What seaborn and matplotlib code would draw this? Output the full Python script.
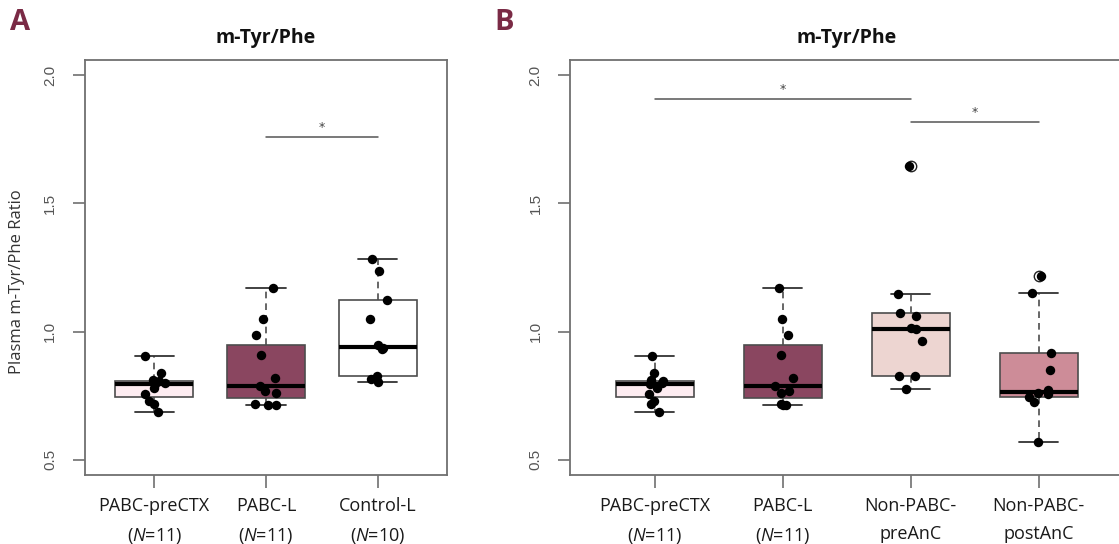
import numpy as np
import pandas as pd
import matplotlib
matplotlib.use("Agg")
import matplotlib.pyplot as plt
import matplotlib.cbook as cbook
import seaborn as sns

# ---------------------------------------------------------------------------
# Plasma m-Tyr/Phe ratios per group
# ---------------------------------------------------------------------------
pabc_prectx = [0.905, 0.840, 0.812, 0.805, 0.800, 0.795, 0.778, 0.758, 0.728, 0.716, 0.686]
pabc_l = [1.170, 1.050, 0.988, 0.907, 0.817, 0.787, 0.768, 0.762, 0.718, 0.714, 0.712]
control_l = [1.285, 1.238, 1.123, 1.048, 0.948, 0.935, 0.930, 0.828, 0.815, 0.804]
nonpabc_preanc = [1.648, 1.147, 1.072, 1.059, 1.013, 1.009, 0.962, 0.828, 0.828, 0.776]
nonpabc_postanc = [1.218, 1.150, 0.918, 0.850, 0.772, 0.759, 0.755, 0.746, 0.724, 0.567]

groups_a = ["PABC-preCTX", "PABC-L", "Control-L"]
groups_b = ["PABC-preCTX", "PABC-L", "Non-PABC-preAnC", "Non-PABC-postAnC"]
values = {
    "PABC-preCTX": pabc_prectx,
    "PABC-L": pabc_l,
    "Control-L": control_l,
    "Non-PABC-preAnC": nonpabc_preanc,
    "Non-PABC-postAnC": nonpabc_postanc,
}
tick_labels = {
    "PABC-preCTX": "PABC-preCTX\n($\\mathit{N}$=11)",
    "PABC-L": "PABC-L\n($\\mathit{N}$=11)",
    "Control-L": "Control-L\n($\\mathit{N}$=10)",
    "Non-PABC-preAnC": "Non-PABC-\npreAnC",
    "Non-PABC-postAnC": "Non-PABC-\npostAnC",
}
fill_colors = {
    "PABC-preCTX": "#FDECF1",
    "PABC-L": "#8A4660",
    "Control-L": "#FFFFFF",
    "Non-PABC-preAnC": "#EDD5D1",
    "Non-PABC-postAnC": "#CD8C98",
}

# significance brackets: (first group, second group, bar height)
sig_a = [("PABC-L", "Control-L", 1.760)]
sig_b = [("PABC-preCTX", "Non-PABC-preAnC", 1.909),
         ("Non-PABC-preAnC", "Non-PABC-postAnC", 1.819)]

y_ticks = [0.5, 1.0, 1.5, 2.0]
y_tick_labels = ["0.5", "1.0", "1.5", "2.0"]
panel_title = "m-Tyr/Phe"
y_title = "Plasma m-Tyr/Phe Ratio"

# ---------------------------------------------------------------------------
# Boxes use Tukey hinges (fivenum), as in R's boxplot
# ---------------------------------------------------------------------------
_default_stats = cbook.boxplot_stats


def tukey_boxplot_stats(X, whis=1.5, bootstrap=None, labels=None, autorange=False):
    stats = _default_stats(X, whis=whis, bootstrap=bootstrap, labels=labels,
                           autorange=autorange)
    arrays = X if isinstance(X, (list, tuple)) else [X]
    for st, x in zip(stats, arrays):
        x = np.sort(np.asarray(x, dtype=float))
        n = len(x)
        n4 = np.floor((n + 3) / 2) / 2
        d = np.array([1, n4, (n + 1) / 2, n + 1 - n4, n]) - 1
        q = 0.5 * (x[np.floor(d).astype(int)] + x[np.ceil(d).astype(int)])
        q1, med, q3 = q[1], q[2], q[3]
        iqr = q3 - q1
        hi = x[x <= q3 + whis * iqr].max()
        lo = x[x >= q1 - whis * iqr].min()
        st.update(q1=q1, med=med, q3=q3, iqr=iqr, whishi=hi, whislo=lo,
                  fliers=x[(x < lo) | (x > hi)])
    return stats


matplotlib.cbook.boxplot_stats = tukey_boxplot_stats

# ---------------------------------------------------------------------------
sns.set_theme(style="white")
plt.rcParams["font.family"] = ["Open Sans", "DejaVu Sans"]
plt.rcParams["mathtext.fontset"] = "custom"
plt.rcParams["mathtext.rm"] = "Open Sans"
plt.rcParams["mathtext.it"] = "Open Sans:italic"

W, H = 1119, 544
fig = plt.figure(figsize=(W / 100, H / 100), dpi=100)
fig.patch.set_facecolor("white")

BOX_EDGE = "#4d4d4d"
FRAME = "#707070"


def draw_panel(ax, groups, box_width, comparisons):
    df = pd.DataFrame(
        [(g, v) for g in groups for v in values[g]], columns=["group", "value"]
    )
    sns.boxplot(
        data=df, x="group", y="value", hue="group", order=groups,
        hue_order=groups, palette=fill_colors, dodge=False, width=box_width,
        saturation=1, linewidth=1.2, linecolor=BOX_EDGE, whis=1.5,
        legend=False, ax=ax,
        medianprops=dict(color="black", linewidth=3.0),
        whiskerprops=dict(color=BOX_EDGE, linewidth=1.2, linestyle=(0, (4, 3))),
        capprops=dict(color="#333333", linewidth=1.3),
        flierprops=dict(marker="o", markerfacecolor="white",
                        markeredgecolor="#222222", markersize=7.5,
                        markeredgewidth=1.0),
    )
    sns.stripplot(
        data=df, x="group", y="value", order=groups, color="black", size=6.8,
        jitter=0.1, linewidth=0, zorder=4, ax=ax,
    )
    n = len(groups)
    pad = 0.04 * n
    ax.set_xlim(-0.5 - pad, n - 0.5 + pad)
    ax.set_ylim(0.44, 2.06)
    ax.set_xticks(range(n))
    ax.set_xticklabels([tick_labels[g] for g in groups], fontsize=13,
                       color="#1a1a1a", linespacing=1.7)
    ax.set_yticks(y_ticks)
    ax.set_yticklabels(y_tick_labels, rotation=90, va="center", fontsize=11,
                       color="#555555", family="Liberation Sans")
    ax.tick_params(axis="both", length=9, width=1.2, color=FRAME,
                   direction="out", left=True, bottom=True)
    ax.tick_params(axis="y", pad=11)
    ax.tick_params(axis="x", pad=7)
    ax.set_xlabel("")
    ax.set_ylabel("")
    for sp in ax.spines.values():
        sp.set_visible(True)
        sp.set_color(FRAME)
        sp.set_linewidth(1.3)
    ax.set_title(panel_title, fontsize=14, fontweight="bold", pad=12,
                 color="#111111")
    for g1, g2, h in comparisons:
        x1, x2 = groups.index(g1), groups.index(g2)
        ax.plot([x1, x2], [h, h], color="#555555", linewidth=1.1, zorder=5)
        ax.text((x1 + x2) / 2, h + 0.01, "*", ha="center", va="bottom",
                fontsize=9, color="#444444", family="DejaVu Sans")


np.random.seed(7)
ax_a = fig.add_axes([85 / W, (H - 475) / H, 362 / W, 415 / H])
draw_panel(ax_a, groups_a, 0.70, sig_a)

ax_b = fig.add_axes([570.3 / W, (H - 475) / H, 553 / W, 415 / H])
draw_panel(ax_b, groups_b, 0.605, sig_b)

fig.text(17 / W, 1 - 282 / H, y_title, rotation=90, ha="center", va="center",
         fontsize=12, color="#333333")

fig.text(10 / W, 1 - 23 / H, "A", ha="left", va="center", fontsize=21,
         fontweight="bold", color="#7A2A45")
fig.text(494 / W, 1 - 23 / H, "B", ha="left", va="center", fontsize=21,
         fontweight="bold", color="#7A2A45")

fig.savefig("out.png", dpi=100, facecolor="white")
